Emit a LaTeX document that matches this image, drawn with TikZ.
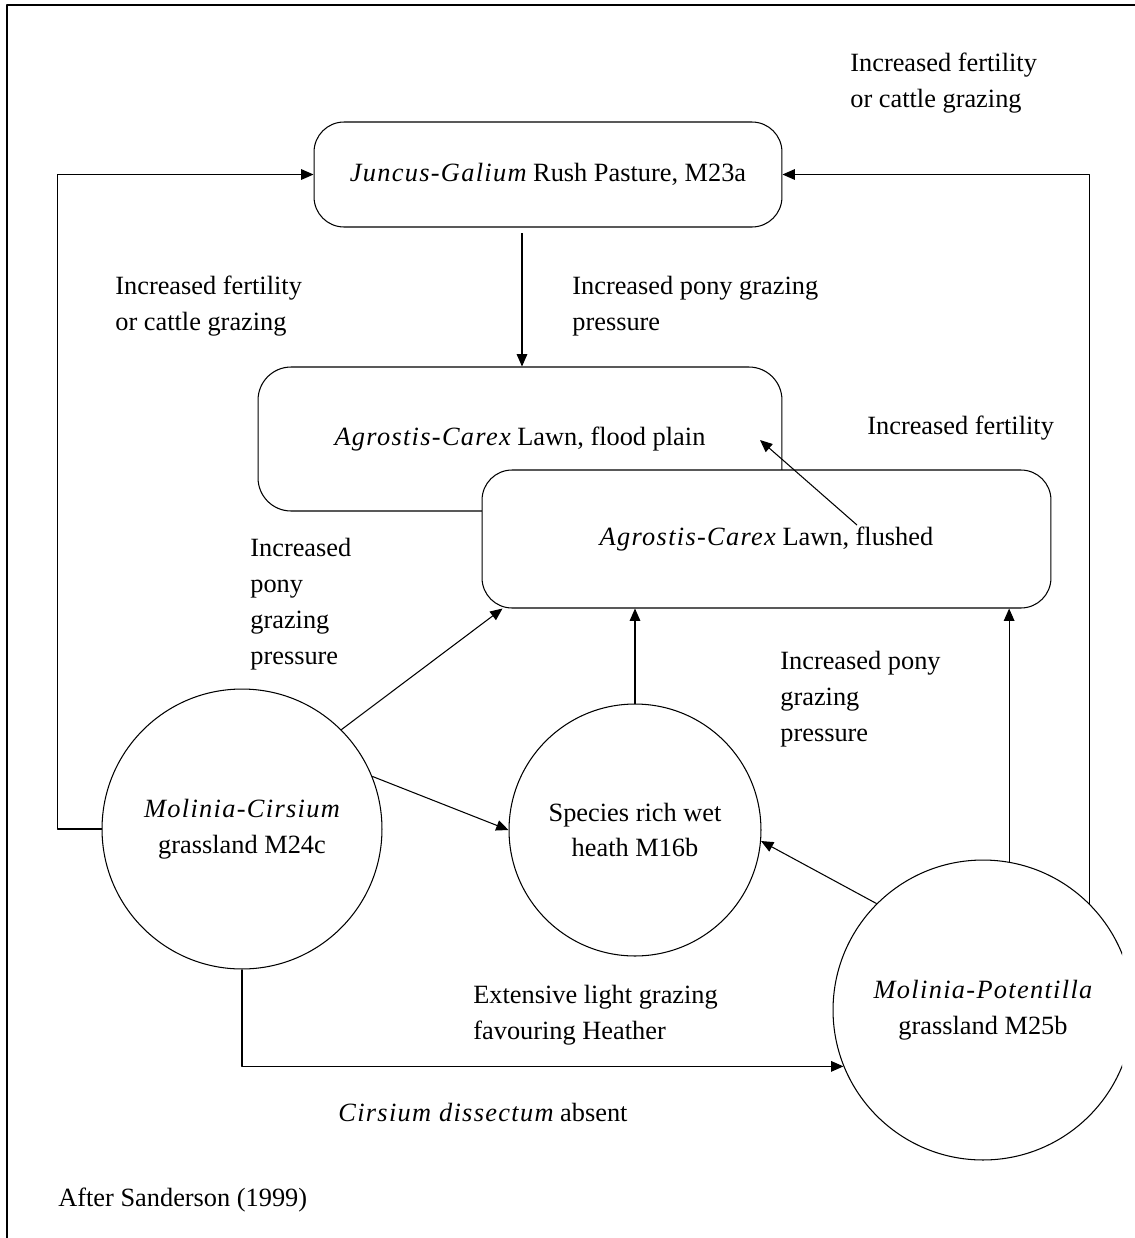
\documentclass[tikz,border=0pt]{standalone}
\usepackage{fontspec}
\setmainfont{Liberation Serif}
\usetikzlibrary{arrows.meta}
\newcommand\taxon[1]{{\itshape\addfontfeature{LetterSpace=5}#1}}

\begin{document}
\begin{tikzpicture}[x=0.02cm,y=-0.02cm,line join=round,
  font=\fontsize{15}{20.4}\selectfont,
  >={Triangle[length=7pt,width=6pt]},
  every node/.style={inner sep=0pt},
  lawn/.style={draw,rounded corners=0.6cm,fill=white,line width=0.6pt},
  patch/.style={draw,circle,align=center,line width=0.6pt},
  note/.style={anchor=west,align=left},
  link/.style={->,line width=0.6pt}]
\useasboundingbox (0,0) rectangle (1135,1238);
\draw[line width=1.1pt] (7,1238)--(7,5)--(1135,5);
% vegetation types
\node[lawn,minimum width=9.36cm,minimum height=2.1cm] (J) at (548,174.5)
  {\taxon{Juncus-Galium} Rush Pasture, M23a};
\node[lawn,rounded corners=0.66cm,minimum width=10.48cm,minimum height=2.88cm]
  (AF) at (520,439) {\taxon{Agrostis-Carex} Lawn, flood plain};
\node[lawn,minimum width=11.38cm,minimum height=2.76cm]
  (AL) at (766.5,539) {\taxon{Agrostis-Carex} Lawn, flushed};
\node[patch,minimum size=5.6cm] (MC) at (242,829)
  {\taxon{Molinia-Cirsium}\\grassland M24c};
\node[patch,minimum size=5.04cm] (MS) at (635,830)
  {Species rich wet\\heath M16b};
\begin{scope}
\clip (0,0) rectangle (1122,1238);
\node[patch,minimum size=6cm] (MP) at (983,1010)
  {\taxon{Molinia-Potentilla}\\grassland M25b};
\end{scope}
% changes
\coordinate (jx) at (522,233);
\coordinate (fs) at (857,525);
\coordinate (ft) at (760,440);
\draw[link] (MC.west) -- ++(-44,0) |- (J.west);
\draw[link] (MP.45) |- (J.east);
\draw[link] (jx) -- (jx |- AF.north);
\draw[link] (fs) -- (ft);
\draw[link] (MC.45) -- ([xshift=0.42cm]AL.south west);
\draw[link] (MC.22) -- (MS.west);
\draw[link] (MS.north) -- (MS.north |- AL.south);
\draw[link] (MP.135) -- (MS.-5);
\draw[link] (MP.80) -- (MP.80 |- AL.south);
\draw[link] (MC.south) |- (MP.202);
% labels
\node[note] (n1) at (850,83) {Increased fertility\\or cattle grazing};
\node[note] (n2) at (115,306) {Increased fertility\\or cattle grazing};
\node[note] (n3) at (572,306) {Increased pony grazing\\pressure};
\node[note] (n4) at (867,428) {Increased fertility};
\node[note] (n5) at (250,604) {Increased\\pony\\grazing\\pressure};
\node[note] (n6) at (780,699) {Increased pony\\grazing\\pressure};
\node[note] (n7) at (473,1015) {Extensive light grazing\\favouring Heather};
\node[note] (n8) at (338,1112) {\taxon{Cirsium dissectum} absent};
\node[note] (n9) at (58,1200) {After Sanderson (1999)};
\end{tikzpicture}
\end{document}
